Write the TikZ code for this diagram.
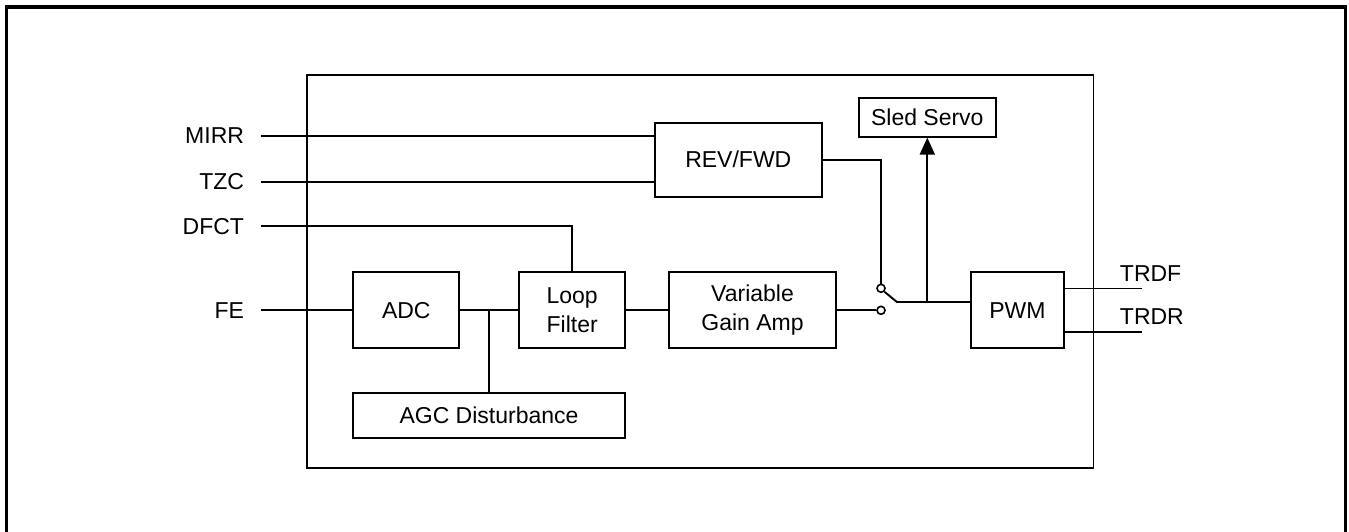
\documentclass[tikz,border=0pt]{standalone}
\usepackage{fontspec}
\setmainfont{Liberation Sans}
\usetikzlibrary{arrows.meta,calc}
\begin{document}
\begin{tikzpicture}[x=1pt,y=-1pt,line width=1.9pt,
  blk/.style={draw,rectangle,inner sep=0pt,align=center,font=\fontsize{23}{29.3}\selectfont},
  lbl/.style={anchor=east,inner sep=0pt,outer xsep=17pt,font=\fontsize{23}{27}\selectfont},
  olbl/.style={anchor=base west,inner sep=0pt,font=\fontsize{23}{27}\selectfont},
  contact/.style={draw,circle,inner sep=0pt,minimum size=8pt,line width=1.6pt,fill=white}]
\useasboundingbox (0,0) rectangle (1349,532);
% outer frame
\draw[line width=3.4pt] (6.5,545) -- (6.5,7) -- (1345.3,7) -- (1345.3,545);
% inner box
\draw (307,75) rectangle (1093.5,468.3);
% blocks
\node[blk,minimum width=166.7pt,minimum height=74pt] (revfwd) at (738.3,159.7) {REV/FWD};
\node[blk,minimum width=136.7pt,minimum height=38.4pt] (sled) at (927.3,117.5) {Sled Servo};
\node[blk,minimum width=106pt,minimum height=76pt] (adc) at (406.3,310.3) {ADC};
\node[blk,minimum width=106.3pt,minimum height=76pt] (loop) at (572.2,310.3) {Loop\\Filter};
\node[blk,minimum width=166.4pt,minimum height=76pt] (vga) at (752.5,310.3) {Variable\\Gain Amp};
\node[blk,minimum width=92.5pt,minimum height=76pt] (pwm) at (1017.5,310.3) {PWM};
\node[blk,minimum width=272.6pt,minimum height=45.6pt] (agc) at (489,415.5) {AGC Disturbance};
% input labels
\node[lbl] (mirr) at (261,136) {MIRR};
\node[lbl] (tzc) at (261,182) {TZC};
\node[lbl] (dfct) at (261,226.3) {DFCT};
\node[lbl] (fe) at (261,310.3) {FE};
% input connectors
\draw (mirr.east) -- (mirr.east -| revfwd.west);
\draw (tzc.east) -- (tzc.east -| revfwd.west);
\draw (dfct.east) -| (loop.north);
\draw (fe.east) -- (adc.west);
\draw (adc.east) -- (loop.west);
\coordinate (j1) at (489.3,310.3);
\draw (j1) -- (j1 |- agc.north);
\draw (loop.east) -- (vga.west);
% switch
\node[contact] (c1) at (881,288.3) {};
\node[contact] (c2) at (881,310.3) {};
\draw (revfwd.east) -| (c1.north);
\draw (vga.east) -- (c2.west);
\coordinate (arm) at (897.3,302.3);
\draw (c1.south east) -- (arm);
\draw (arm) -- (arm -| pwm.west);
\coordinate (j2) at (927.3,302.3);
\draw[-{Triangle[length=17pt,width=15pt]}] (j2) -- (sled.south);
% outputs
\coordinate (trdf) at (1141.6,288.5);
\coordinate (trdr) at (1141.6,331.9);
\draw (trdf -| pwm.east) -- (trdf);
\draw (trdr -| pwm.east) -- (trdr);
\node[olbl] (ltrdf) at (1119,281.6) {TRDF};
\node[olbl] (ltrdr) at (1119,324.2) {TRDR};
\end{tikzpicture}
\end{document}
